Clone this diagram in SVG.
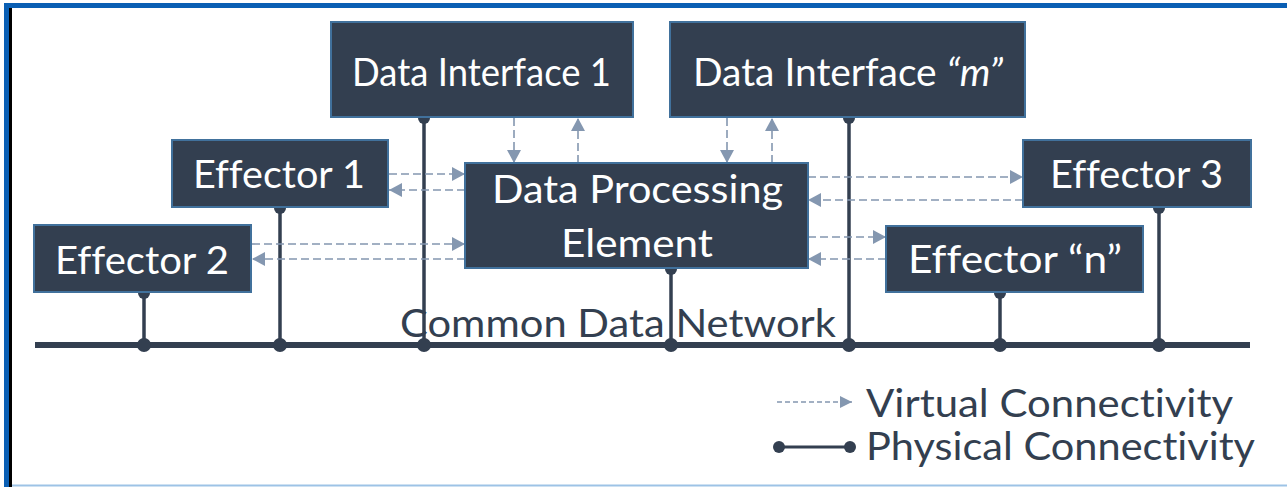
<svg xmlns="http://www.w3.org/2000/svg" width="1287" height="487" viewBox="0 0 1287 487">
<style>
.box{fill:#333f50;stroke:#41719c;stroke-width:2}
.lbl{fill:#ffffff;font-family:Lato,"Liberation Sans",sans-serif;text-anchor:middle;font-variant-ligatures:none;font-feature-settings:"liga" 0,"clig" 0}
.dash{stroke:#8497b0;stroke-width:1.6;stroke-dasharray:8 4;fill:none}
.phys{stroke:#333f50;stroke-width:3.5;fill:none}
.dot{fill:#333f50}
.dark{fill:#333f50;font-family:Lato,"Liberation Sans",sans-serif;font-variant-ligatures:none;font-feature-settings:"liga" 0,"clig" 0}
</style>
<defs>
<marker id="ah" viewBox="0 0 13 14" refX="13" refY="7" markerWidth="13" markerHeight="14" markerUnits="userSpaceOnUse" orient="auto">
<path d="M0,0 L13,7 L0,14 z" fill="#8497b0"/>
</marker>
<marker id="ahs" viewBox="0 0 12 12" refX="12" refY="6" markerWidth="12" markerHeight="12" markerUnits="userSpaceOnUse" orient="auto">
<path d="M0,0 L12,6 L0,12 z" fill="#8497b0"/>
</marker>
</defs>
<rect x="0" y="0" width="1287" height="487" fill="#ffffff"/>
<g id="frame">
<rect x="4" y="3" width="1283" height="5" fill="#0a5fb4"/>
<rect x="4" y="3" width="5" height="484" fill="#0a5fb4"/>
<rect x="9" y="8" width="3" height="479" fill="#000000"/>
<rect x="12" y="484.5" width="1275" height="2" fill="#9dc3e6"/>
</g>
<g id="connectors">
<line class="phys" x1="35" y1="345" x2="1250" y2="345" style="stroke-width:6"/>
<line class="phys" x1="144" y1="292" x2="144" y2="345"/>
<line class="phys" x1="280" y1="207" x2="280" y2="345"/>
<line class="phys" x1="424" y1="117" x2="424" y2="345"/>
<line class="phys" x1="671" y1="268" x2="671" y2="345"/>
<line class="phys" x1="849" y1="117" x2="849" y2="345"/>
<line class="phys" x1="1000" y1="292" x2="1000" y2="345"/>
<line class="phys" x1="1159" y1="207" x2="1159" y2="345"/>
<circle class="dot" cx="144" cy="345" r="7"/>
<circle class="dot" cx="280" cy="345" r="7"/>
<circle class="dot" cx="424" cy="345" r="7"/>
<circle class="dot" cx="671" cy="345" r="7"/>
<circle class="dot" cx="849" cy="345" r="7"/>
<circle class="dot" cx="1000" cy="345" r="7"/>
<circle class="dot" cx="1159" cy="345" r="7"/>
<circle class="dot" cx="144" cy="293" r="6"/>
<circle class="dot" cx="280" cy="208" r="6"/>
<circle class="dot" cx="424" cy="118" r="6"/>
<circle class="dot" cx="671" cy="269" r="6"/>
<circle class="dot" cx="849" cy="118" r="6"/>
<circle class="dot" cx="1000" cy="293" r="6"/>
<circle class="dot" cx="1159" cy="208" r="6"/>
<line class="dash" x1="514" y1="118" x2="514" y2="163" marker-end="url(#ah)"/>
<line class="dash" x1="578" y1="163" x2="578" y2="118" marker-end="url(#ah)"/>
<line class="dash" x1="727" y1="118" x2="727" y2="163" marker-end="url(#ah)"/>
<line class="dash" x1="772" y1="163" x2="772" y2="118" marker-end="url(#ah)"/>
<line class="dash" x1="389" y1="174" x2="465" y2="174" marker-end="url(#ah)"/>
<line class="dash" x1="465" y1="190" x2="389" y2="190" marker-end="url(#ah)"/>
<line class="dash" x1="252" y1="244" x2="465" y2="244" marker-end="url(#ah)"/>
<line class="dash" x1="465" y1="259" x2="252" y2="259" marker-end="url(#ah)"/>
<line class="dash" x1="808" y1="177" x2="1023" y2="177" marker-end="url(#ah)"/>
<line class="dash" x1="1023" y1="200" x2="808" y2="200" marker-end="url(#ah)"/>
<line class="dash" x1="808" y1="237" x2="886" y2="237" marker-end="url(#ah)"/>
<line class="dash" x1="886" y1="259" x2="808" y2="259" marker-end="url(#ah)"/>
</g>
<g id="di1">
<rect class="box" x="331" y="22" width="302" height="95"/>
<text class="lbl" x="481.5" y="86" font-size="38" textLength="259" lengthAdjust="spacingAndGlyphs">Data Interface 1</text>
</g>
<g id="dim">
<rect class="box" x="670" y="22" width="355" height="95"/>
<text class="lbl" x="848" y="86" font-size="38" textLength="310" lengthAdjust="spacingAndGlyphs">Data Interface <tspan font-style="italic">“m”</tspan></text>
</g>
<g id="eff1">
<rect class="box" x="172" y="140" width="216" height="67"/>
<text class="lbl" x="279" y="188" font-size="39" textLength="172" lengthAdjust="spacingAndGlyphs">Effector 1</text>
</g>
<g id="eff2">
<rect class="box" x="34" y="225" width="217" height="67"/>
<text class="lbl" x="142" y="274" font-size="39" textLength="174" lengthAdjust="spacingAndGlyphs">Effector 2</text>
</g>
<g id="dpe">
<rect class="box" x="465" y="163" width="343" height="105"/>
<text class="lbl" x="637.5" y="203" font-size="39" textLength="291" lengthAdjust="spacingAndGlyphs">Data Processing</text>
<text class="lbl" x="637" y="257" font-size="39" textLength="152" lengthAdjust="spacingAndGlyphs">Element</text>
</g>
<g id="eff3">
<rect class="box" x="1023" y="140" width="228" height="67"/>
<text class="lbl" x="1136.5" y="188" font-size="39" textLength="173" lengthAdjust="spacingAndGlyphs">Effector 3</text>
</g>
<g id="effn">
<rect class="box" x="886" y="226" width="257" height="66"/>
<text class="lbl" x="1015" y="273" font-size="39" textLength="214" lengthAdjust="spacingAndGlyphs">Effector “n”</text>
</g>
<g id="bus-label">
<text class="dark" x="400" y="337" font-size="38" textLength="436" lengthAdjust="spacingAndGlyphs">Common Data Network</text>
</g>
<g id="legend">
<line class="dash" x1="777" y1="402" x2="852" y2="402" style="stroke-dasharray:5 3" marker-end="url(#ahs)"/>
<text class="dark" x="866" y="417" font-size="38" textLength="367" lengthAdjust="spacingAndGlyphs">Virtual Connectivity</text>
<line class="phys" x1="779" y1="447" x2="850" y2="447" style="stroke-width:3"/>
<circle class="dot" cx="779" cy="447" r="6"/>
<circle class="dot" cx="850" cy="447" r="6"/>
<text class="dark" x="866" y="460" font-size="38" textLength="389" lengthAdjust="spacingAndGlyphs">Physical Connectivity</text>
</g>
</svg>
